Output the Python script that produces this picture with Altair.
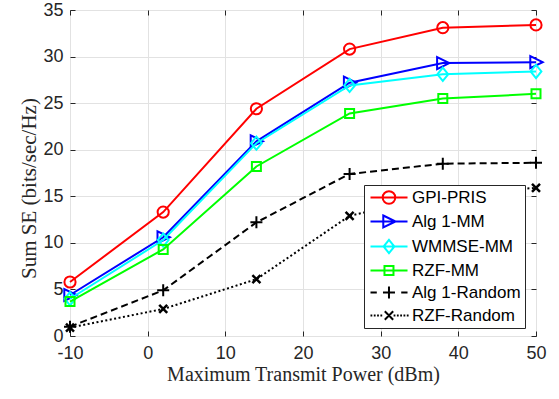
import altair as alt
import pandas as pd

# ---------------- data ----------------
power = [-10, 2, 14, 26, 38, 50]
series_names = ["GPI-PRIS", "Alg 1-MM", "WMMSE-MM", "RZF-MM", "Alg 1-Random", "RZF-Random"]
gpi_pris = [5.8, 13.3, 24.4, 30.8, 33.1, 33.4]
alg1_mm = [4.4, 10.6, 20.9, 27.2, 29.3, 29.4]
wmmse_mm = [4.0, 10.3, 20.7, 26.9, 28.1, 28.4]
rzf_mm = [3.7, 9.3, 18.2, 23.9, 25.5, 26.0]
alg1_random = [1.0, 4.9, 12.2, 17.4, 18.5, 18.6]
rzf_random = [0.9, 2.9, 6.1, 12.9, 15.2, 15.9]
x_ticks = [-10, 0, 10, 20, 30, 40, 50]
y_ticks = [0, 5, 10, 15, 20, 25, 30, 35]
x_title = "Maximum Transmit Power (dBm)"
y_title = "Sum SE (bits/sec/Hz)"

values = [gpi_pris, alg1_mm, wmmse_mm, rzf_mm, alg1_random, rzf_random]

# ---------------- styles ----------------
colors = ["#ff0000", "#0000ff", "#00ffff", "#00ff00", "#000000", "#000000"]
dashes = [None, None, None, None, [7, 4], [2, 2.5]]
plot_shapes = [
    "circle",
    "M1.1,0L-0.95,-1L-0.95,1Z",
    "M0,-1.1L0.9,0L0,1.1L-0.9,0Z",
    "square",
    "M-1,0H1M0,-1V1",
    "M-1,-1L1,1M-1,1L1,-1",
]
plot_sizes = [125, 144, 144, 81, 144, 64]
marker_widths = [2, 2, 2, 2, 2, 2.5]

cx = 2.08
def f(v):
    return f"{v:.3f}".rstrip("0").rstrip(".")

line_full = "M-1,0H5.17"
dots = "".join(f"M{f(s)},0H{f(s + 0.3)}" for s in [-1 + 0.55 * i for i in range(12)] if s + 0.3 < cx - 0.75 or s > cx + 0.75)
legend_shapes = [
    line_full + f"M{f(cx-1.05)},0A1.05,1.05 0 1,1 {f(cx+1.05)},0A1.05,1.05 0 1,1 {f(cx-1.05)},0",
    line_full + f"M{f(cx-0.95)},-1L{f(cx+1.1)},0L{f(cx-0.95)},1Z",
    line_full + f"M{f(cx)},-1.1L{f(cx+0.9)},0L{f(cx)},1.1L{f(cx-0.9)},0Z",
    line_full + f"M{f(cx-0.75)},-0.75H{f(cx+0.75)}V0.75H{f(cx-0.75)}Z",
    f"M-1,0H0.05M{f(cx-1)},0H{f(cx+1)}M{f(cx)},-1V1M4.12,0H5.17",
    dots + f"M{f(cx-0.7)},-0.7L{f(cx+0.7)},0.7M{f(cx-0.7)},0.7L{f(cx+0.7)},-0.7",
]

W, H = 466, 326
sans = "Liberation Sans"
serif = "Liberation Serif"
axis_col = "#262626"

frames = []
for name, vals in zip(series_names, values):
    frames.append(pd.DataFrame({"power": power, "se": vals, "series": name}))
df = pd.concat(frames, ignore_index=True)

xs = alt.Scale(domain=[-10, 50], nice=False, zero=False)
ys = alt.Scale(domain=[0, 35], nice=False, zero=False)

def enc(chart, xaxis=None, yaxis=None):
    return chart.encode(
        x=alt.X("power:Q", scale=xs, axis=xaxis),
        y=alt.Y("se:Q", scale=ys, axis=yaxis),
    )

main_x = alt.Axis(
    orient="bottom", values=x_ticks, grid=True, gridColor="#e2e2e2", gridWidth=1,
    ticks=False, tickSize=0, domain=False, labelFont=sans, labelFontSize=18,
    labelColor=axis_col, labelPadding=8, labelOverlap=False, labelFlush=False,
    labelExpr="datum.value + ''",
    title=x_title, titleFont=serif, titleFontSize=20, titleFontWeight="normal",
    titleColor=axis_col, titleY=44, titleBaseline="alphabetic",
)
main_y = alt.Axis(
    orient="left", values=y_ticks, grid=True, gridColor="#e2e2e2", gridWidth=1,
    ticks=False, tickSize=0, domain=False, labelFont=sans, labelFontSize=18,
    labelColor=axis_col, labelPadding=7, labelOverlap=False, labelFlush=False,
    labelExpr="datum.value + ''",
    title=y_title, titleFont=serif, titleFontSize=21, titleFontWeight="normal",
    titleColor=axis_col, titleX=-35, titleY=178, titleBaseline="alphabetic",
    titleAngle=270,
)

def tick_axis(orient, offset, vals):
    return alt.Axis(
        orient=orient, offset=offset, values=vals, labels=False, ticks=True,
        tickSize=5, tickColor=axis_col, tickWidth=1, grid=False, domain=False,
        title="",
    )

base_df = frames[0]
layers = [
    enc(alt.Chart(base_df).mark_point(opacity=0), main_x, main_y),
    enc(alt.Chart(base_df).mark_point(opacity=0), tick_axis("top", -H, x_ticks), tick_axis("right", -W, y_ticks)),
    enc(alt.Chart(base_df).mark_point(opacity=0), tick_axis("bottom", -H, x_ticks), tick_axis("left", -W, y_ticks)),
]

for i, (name, sdf) in enumerate(zip(series_names, frames)):
    line_kw = dict(color=colors[i], strokeWidth=2)
    if dashes[i] is not None:
        line_kw["strokeDash"] = dashes[i]
    layers.append(enc(alt.Chart(sdf).mark_line(**line_kw)))
    layers.append(enc(alt.Chart(sdf).mark_point(
        shape=plot_shapes[i], size=plot_sizes[i], filled=False, color=colors[i],
        strokeWidth=marker_widths[i], opacity=1,
    )))

legend = alt.Legend(
    orient="none", legendX=294, legendY=175, title="", fillColor="white",
    strokeColor=axis_col, padding=4, symbolSize=144, symbolStrokeWidth=2,
    symbolOpacity=1, labelFont=sans, labelFontSize=17, labelColor="#000000",
    labelOffset=27, rowPadding=3, labelLimit=400,
    labelExpr="datum.label + '\u00a0\u00a0\u00a0'",
)
legend_layer = alt.Chart(df).mark_point(filled=False, opacity=0, size=144).encode(
    x=alt.X("power:Q", scale=xs, axis=None),
    y=alt.Y("se:Q", scale=ys, axis=None),
    color=alt.Color("series:N", scale=alt.Scale(domain=series_names, range=colors), legend=legend),
    shape=alt.Shape("series:N", scale=alt.Scale(domain=series_names, range=legend_shapes), legend=legend),
)
layers.append(legend_layer)

chart = alt.layer(*layers).resolve_axis(x="independent", y="independent").properties(
    width=W, height=H,
    padding={"left": 70, "top": 10, "right": 23, "bottom": 63},
    autosize=alt.AutoSizeParams(type="none"),
    background="white",
).configure_view(stroke=axis_col, strokeWidth=1)

chart.save("out.html", embed_options={"renderer": "svg", "actions": False})
